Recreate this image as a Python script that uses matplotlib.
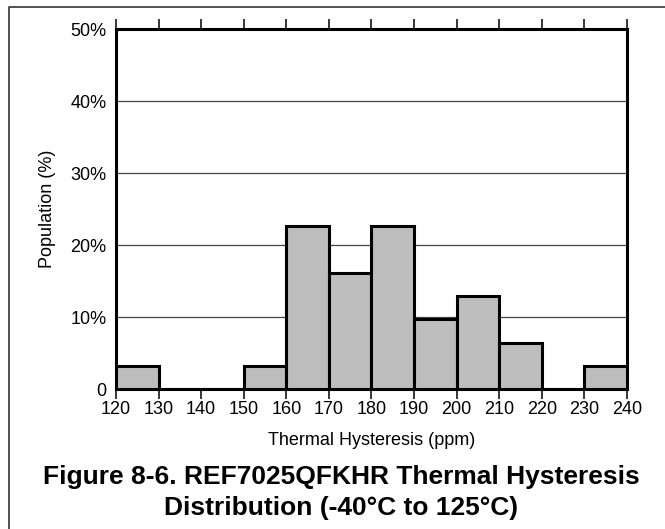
import matplotlib.pyplot as plt
from matplotlib.lines import Line2D

plt.rcParams["font.family"] = ["Liberation Sans", "DejaVu Sans"]

# histogram bins (ppm) and population per bin (%)
bin_left = [120, 130, 140, 150, 160, 170, 180, 190, 200, 210, 220, 230]
population = [3.23, 0, 0, 3.23, 22.58, 16.13, 22.58, 9.68, 12.90, 6.45, 0, 3.23]
x_ticks = list(range(120, 241, 10))
y_ticks = [0, 10, 20, 30, 40, 50]
y_labels = ["0", "10%", "20%", "30%", "40%", "50%"]

fig = plt.figure(figsize=(6.65, 5.29), dpi=100)
ax = fig.add_axes([116 / 665, 1 - 389 / 529, (627 - 116) / 665, (389 - 29) / 529])

ax.bar(bin_left, population, width=10, align="edge", color="#bdbdbd",
       edgecolor="black", linewidth=2.2, zorder=3)

ax.set_xlim(120, 240)
ax.set_ylim(0, 50)
ax.set_xticks(x_ticks)
ax.set_yticks(y_ticks)
ax.set_yticklabels(y_labels)
ax.tick_params(axis="x", direction="out", length=7, width=1.1, labelsize=13,
               top=True, pad=2)
ax.tick_params(axis="y", length=0, labelsize=13, pad=7)
ax.yaxis.grid(True, color="#444444", linewidth=0.9, zorder=0)
ax.set_axisbelow(True)
for s in ax.spines.values():
    s.set_linewidth(2.2)

ax.set_xlabel("Thermal Hysteresis (ppm)", fontsize=13, labelpad=10)
ax.set_ylabel("Population (%)", fontsize=13, labelpad=10)

fig.text(341 / 665, 1 - 484 / 529, "Figure 8-6. REF7025QFKHR Thermal Hysteresis",
         ha="center", va="baseline", fontsize=19, fontweight="bold")
fig.text(341 / 665, 1 - 515 / 529, "Distribution (-40°C to 125°C)",
         ha="center", va="baseline", fontsize=19, fontweight="bold")

# outer frame (top and left edges)
fig.add_artist(Line2D([9 / 665, 9 / 665, 1], [0, 1 - 7 / 529, 1 - 7 / 529],
                      transform=fig.transFigure, color="#333333", linewidth=1.2))

plt.savefig("out.png", dpi=100)
